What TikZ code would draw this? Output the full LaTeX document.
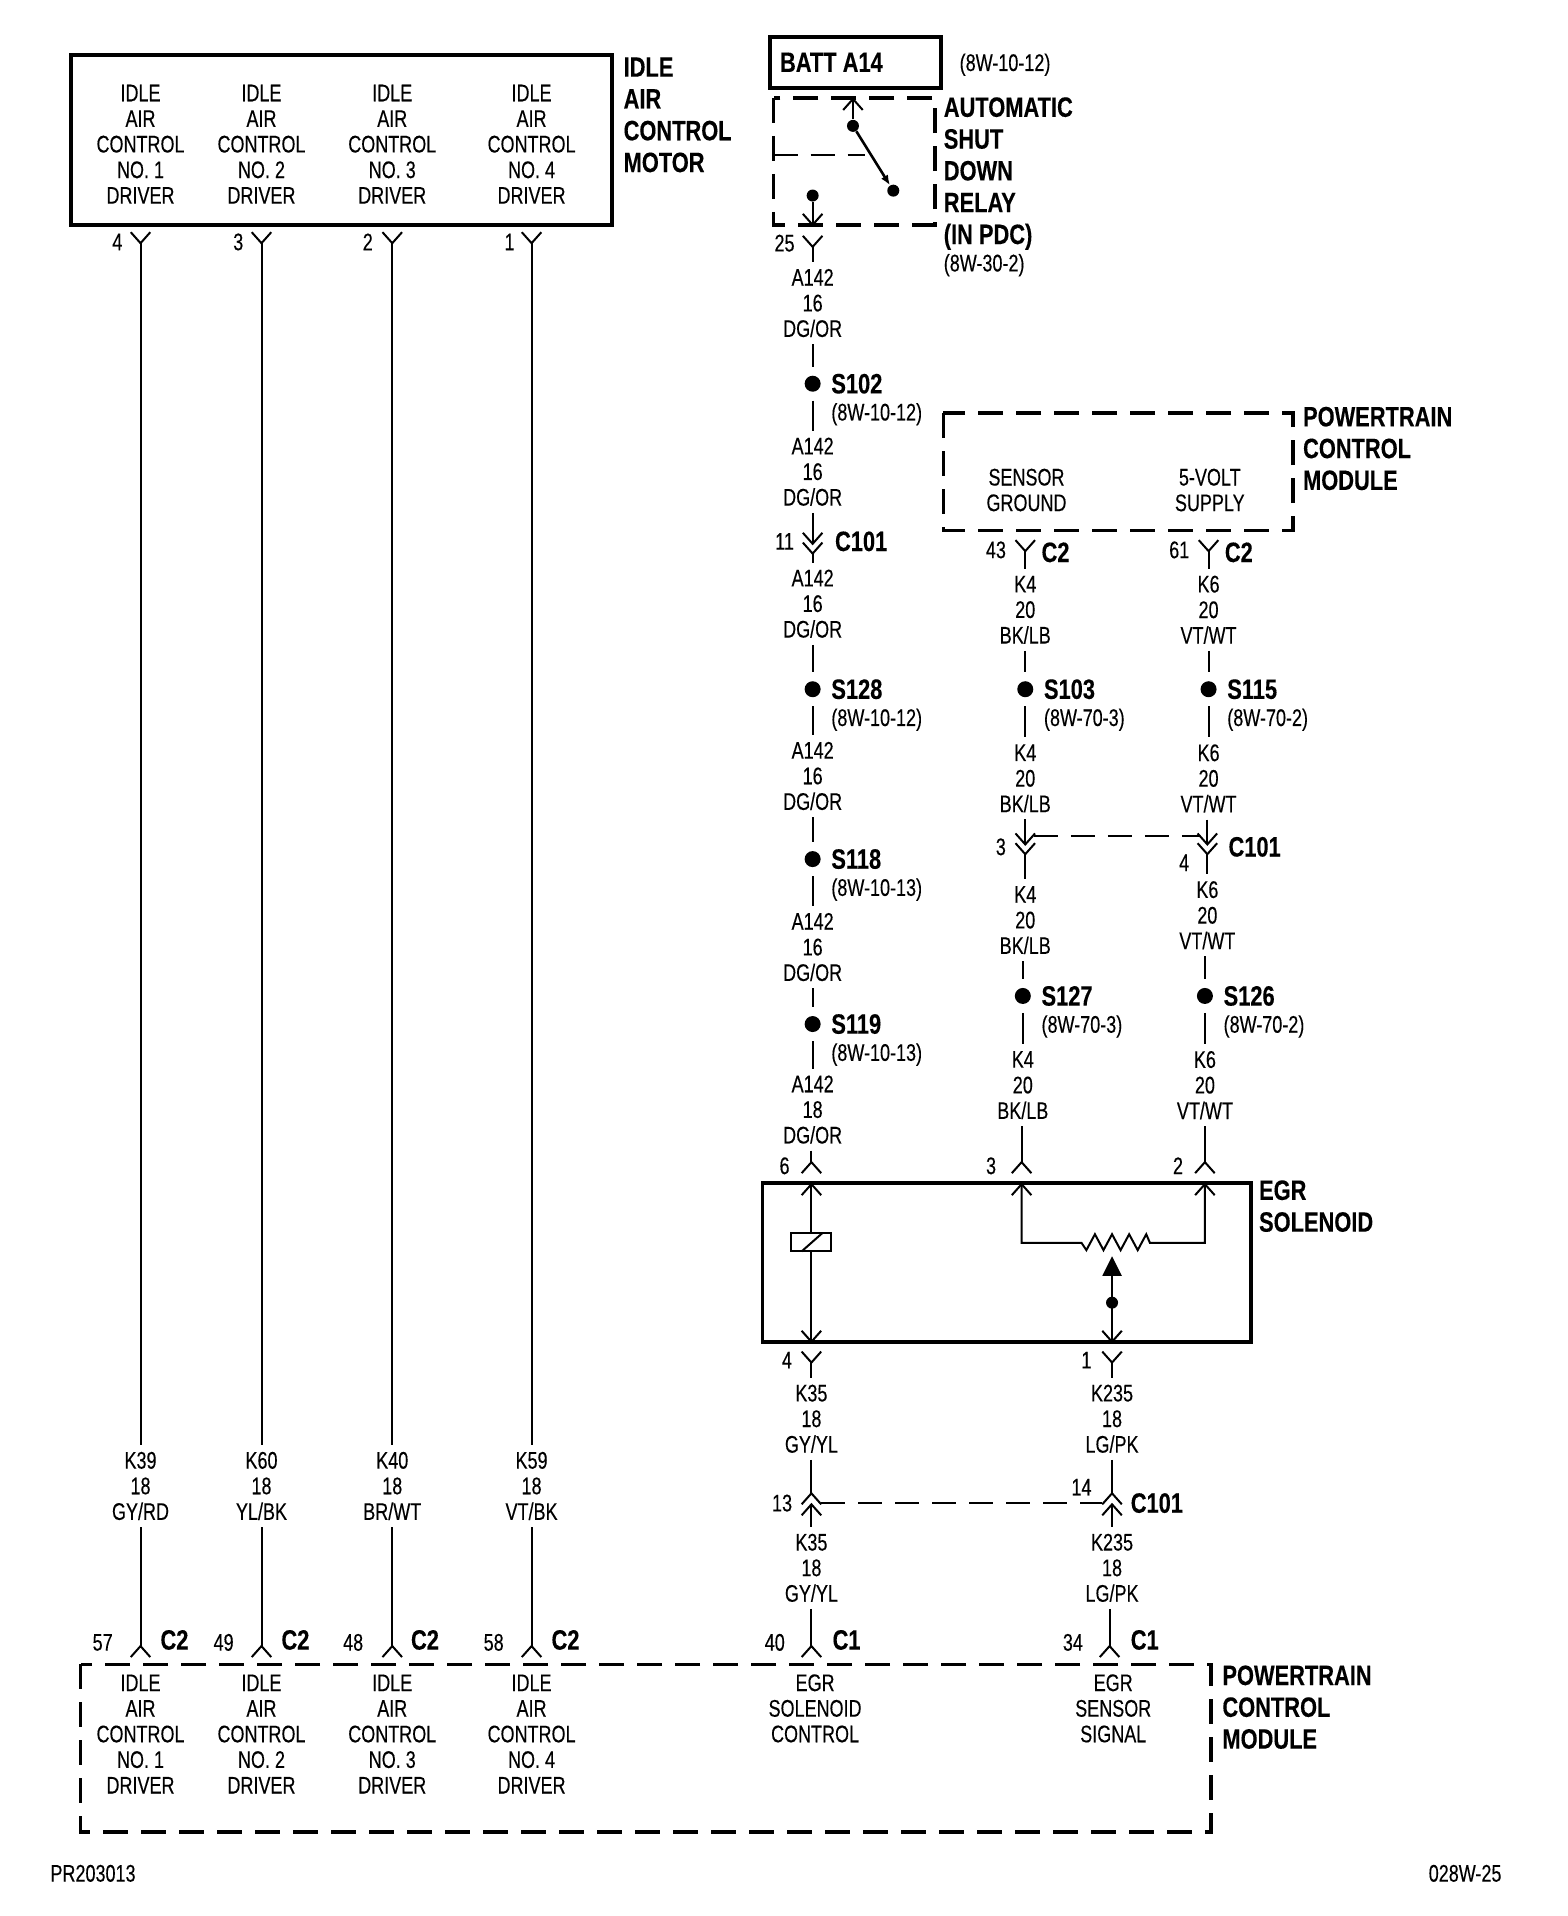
\documentclass[tikz,border=0pt]{standalone}
\usepackage{fontspec}
\setmainfont{Liberation Sans}[FakeStretch=0.75,FakeBold=0.25,BoldFeatures={FakeStretch=0.78}]
\usetikzlibrary{calc,arrows.meta}
\tikzstyle{wire}=[line width=1pt]
\tikzstyle{heavybox}=[line width=1.9pt]
\tikzstyle{dashbox}=[line width=1.8pt,dash pattern=on 12.5pt off 6.5pt,line cap=butt]
\tikzstyle{dashlink}=[line width=1pt,dash pattern=on 12pt off 6.5pt]
\tikzstyle{txt}=[inner sep=0pt,outer sep=3.5pt,align=center,font=\fontsize{12}{12.8}\selectfont]
\tikzstyle{smalltxt}=[inner sep=0pt,font=\fontsize{12}{12.8}\selectfont]
\tikzstyle{reftxt}=[smalltxt,anchor=west]
\tikzstyle{boldtxt}=[inner sep=0pt,anchor=west,align=left,font=\fontsize{14}{15.9}\selectfont\bfseries]
\tikzstyle{splice}=[circle,fill=black,inner sep=0pt,minimum size=8pt,outer sep=4.5pt]
\tikzstyle{contact}=[circle,fill=black,inner sep=0pt,minimum size=6pt]
\newcommand{\pinup}[2]{ % arms above the point
	\coordinate (#1) at (#2);
	\draw[wire] ($(#1)+(-8,-9)$) -- (#1) -- ($(#1)+(8,-9)$);
}
\newcommand{\pindown}[2]{ % arms below the point
	\coordinate (#1) at (#2);
	\draw[wire] ($(#1)+(-8,9)$) -- (#1) -- ($(#1)+(8,9)$);
}
\newcommand{\spliceat}[4]{ % name, point, label, reference
	\node[splice] (#1) at (#2) {};
	\node[boldtxt] (#1lab) at ($(#1)+(15,0)$) {#3};
	\node[reftxt] (#1ref) at ($(#1)+(15,25)$) {#4};
}
\begin{document}
\begin{tikzpicture}[x=0.611pt,y=-0.611pt]
\useasboundingbox (0,0) rectangle (1283.1,1567.9);

% motor and module, left side
\draw[heavybox] (58,45) rectangle (501,184);
\node[boldtxt] (motorname) at (510,94) {IDLE\\AIR\\CONTROL\\MOTOR};
\draw[dashbox] (66,1362) rectangle (991,1499);
\node[boldtxt] (pcmname) at (1000,1397) {POWERTRAIN\\CONTROL\\MODULE};

\foreach \drv/\x/\mpin/\mnum/\cnum/\wirecode/\wirecol in {1/115/96/4/84/K39/{GY/RD},2/214/195/3/183/K60/{YL/BK},3/321/301/2/289/K40/{BR/WT},4/435/417/1/404/K59/{VT/BK}} {
	\node[txt] (mtext\drv) at (\x,118) {IDLE\\AIR\\CONTROL\\NO. \drv\\DRIVER};
	\pinup{mpin\drv}{\x,199}
	\node[smalltxt] (mnum\drv) at (\mpin,198) {\mnum};
	\node[txt] (wire\drv) at (\x,1216) {\wirecode\\18\\\wirecol};
	\pindown{cpin\drv}{\x,1347}
	\draw[wire] (mpin\drv) -- (wire\drv.north);
	\draw[wire] (wire\drv.south) -- (cpin\drv);
	\node[txt] (ctext\drv) at (\x,1419) {IDLE\\AIR\\CONTROL\\NO. \drv\\DRIVER};
}
\node[smalltxt] (cnum1) at (84,1344) {57};
\node[smalltxt] (cnum2) at (183,1344) {49};
\node[smalltxt] (cnum3) at (289,1344) {48};
\node[smalltxt] (cnum4) at (404,1344) {58};
\node[boldtxt] (cc1) at (131,1342) {C2};
\node[boldtxt] (cc2) at (230,1342) {C2};
\node[boldtxt] (cc3) at (336,1342) {C2};
\node[boldtxt] (cc4) at (451,1342) {C2};

% battery feed and relay
\draw[heavybox] (630,30) rectangle (770,72);
\node[boldtxt] (batt) at (638,51) {BATT A14};
\node[reftxt] (battref) at (785,53) {(8W-10-12)};
\draw[dashbox] (633,80) rectangle (765,184);
\draw[wire,dash pattern=on 12pt off 6.5pt] (633,127) -- (708,127);
\node[boldtxt] (relayname) at (772,142) {AUTOMATIC\\SHUT\\DOWN\\RELAY\\(IN PDC)};
\node[reftxt] (relayref) at (772,217) {(8W-30-2)};
\pindown{rtop}{698,81}
\node[contact] (rc1) at (698,103) {};
\node[contact] (rc2) at (731,156) {};
\node[contact] (rc3) at (665,160) {};
\pinup{rbot}{665,184}
\draw[wire] (rtop) -- (rc1);
\draw[line width=1.3pt,-{Latex[length=5pt,width=4pt]}] (rc1) -- (rc2);
\draw[wire] (rc3) -- (rbot);
\pinup{p25}{665,202}
\node[smalltxt] (n25) at (642,199) {25};

% A142 run
\node[txt] (a1) at (665,248) {A142\\16\\DG/OR};
\draw[wire] (p25) -- (a1.north);
\spliceat{s102}{665,314}{S102}{(8W-10-12)}
\draw[wire] (a1.south) -- (s102);
\node[txt] (a2) at (665,386) {A142\\16\\DG/OR};
\draw[wire] (s102) -- (a2.north);
\pinup{c11a}{665,445}
\pinup{c11b}{665,453}
\node[smalltxt] (n11) at (642,443) {11};
\node[boldtxt] (c11lab) at (683,443) {C101};
\draw[wire] (a2.south) -- (c11a);
\node[txt] (a3) at (665,494) {A142\\16\\DG/OR};
\draw[wire] (c11b) -- (a3.north);
\spliceat{s128}{665,564}{S128}{(8W-10-12)}
\draw[wire] (a3.south) -- (s128);
\node[txt] (a4) at (665,635) {A142\\16\\DG/OR};
\draw[wire] (s128) -- (a4.north);
\spliceat{s118}{665,703}{S118}{(8W-10-13)}
\draw[wire] (a4.south) -- (s118);
\node[txt] (a5) at (665,775) {A142\\16\\DG/OR};
\draw[wire] (s118) -- (a5.north);
\spliceat{s119}{665,838}{S119}{(8W-10-13)}
\draw[wire] (a5.south) -- (s119);
\node[txt] (a6) at (665,908) {A142\\18\\DG/OR};
\draw[wire] (s119) -- (a6.north);
\pindown{p6}{664,951}
\node[smalltxt] (n6) at (642,954) {6};
\draw[wire] (p6 |- a6.south) -- (p6);

% sensor module
\draw[dashbox] (772,338) rectangle (1058,434);
\node[boldtxt] (pcmtop) at (1066,367) {POWERTRAIN\\CONTROL\\MODULE};
\node[txt] (sgnd) at (840,401) {SENSOR\\GROUND};
\node[txt] (vsup) at (990,401) {5-VOLT\\SUPPLY};
\pinup{p43}{839,451}
\pinup{p61}{989,451}
\node[smalltxt] (n43) at (815,450) {43};
\node[smalltxt] (n61) at (965,450) {61};
\node[boldtxt] (c43) at (852,452) {C2};
\node[boldtxt] (c61) at (1002,452) {C2};

% K4 run
\node[txt] (k1) at (839,499) {K4\\20\\BK/LB};
\draw[wire] (p43) -- (k1.north);
\spliceat{s103}{839,564}{S103}{(8W-70-3)}
\draw[wire] (k1.south) -- (s103);
\node[txt] (k2) at (839,637) {K4\\20\\BK/LB};
\draw[wire] (s103) -- (k2.north);
\pinup{c3a}{839,691}
\pinup{c3b}{839,699}
\node[smalltxt] (n3a) at (819,693) {3};
\draw[wire] (k2.south) -- (c3a);
\node[txt] (k3) at (839,753) {K4\\20\\BK/LB};
\draw[wire] (c3b) -- (k3.north);
\spliceat{s127}{837,815}{S127}{(8W-70-3)}
\draw[wire] (s127 |- k3.south) -- (s127);
\node[txt] (k4) at (837,888) {K4\\20\\BK/LB};
\draw[wire] (s127) -- (k4.north);
\pindown{p3}{836,951}
\node[smalltxt] (n3) at (811,954) {3};
\draw[wire] (p3 |- k4.south) -- (p3);

% K6 run
\node[txt] (v1) at (989,499) {K6\\20\\VT/WT};
\draw[wire] (p61) -- (v1.north);
\spliceat{s115}{989,564}{S115}{(8W-70-2)}
\draw[wire] (v1.south) -- (s115);
\node[txt] (v2) at (989,637) {K6\\20\\VT/WT};
\draw[wire] (s115) -- (v2.north);
\pinup{c4a}{988,691}
\pinup{c4b}{988,699}
\node[smalltxt] (n4a) at (969,706) {4};
\node[boldtxt] (c4lab) at (1005,693) {C101};
\draw[wire] (c4a |- v2.south) -- (c4a);
\node[txt] (v3) at (988,749) {K6\\20\\VT/WT};
\draw[wire] (c4b) -- (v3.north);
\coordinate (c3arm) at ($(c3a)+(7,-7)$);
\coordinate (c4arm) at ($(c4a)+(-7,-7)$);
\draw[dashlink] (c3arm) -- (c4arm);
\spliceat{s126}{986,815}{S126}{(8W-70-2)}
\draw[wire] (s126 |- v3.south) -- (s126);
\node[txt] (v4) at (986,888) {K6\\20\\VT/WT};
\draw[wire] (s126) -- (v4.north);
\pindown{p2}{986,951}
\node[smalltxt] (n2) at (964,954) {2};
\draw[wire] (v4.south) -- (p2);

% solenoid
\draw[heavybox] (624,968) rectangle (1024,1098);
\node[boldtxt] (egrname) at (1030,987) {EGR\\SOLENOID};
\pindown{e6}{664,969}
\pinup{e4}{664,1098}
\node[draw,line width=1pt,minimum width=20pt,minimum height=9pt,inner sep=0pt] (coil) at (664,1016) {};
\draw[wire] (656,1024) -- (673,1009);
\draw[wire] (e6) -- (coil);
\draw[wire] (coil) -- (e4);
\pindown{e3}{836,969}
\pindown{e2}{986,969}
\draw[wire] (e3) -- (836,1017) -- (885,1017) -- (889,1023) -- (896,1010) -- (903,1023) -- (910,1010) -- (917,1023) -- (924,1010) -- (931,1023) -- (938,1010) -- (941,1017) -- (986,1017) -- (e2);
\pinup{e1}{910,1098}
\node[contact] (wipdot) at (910,1066) {};
\coordinate (wiptip) at (910,1044);
\fill (910,1028) -- (902,1044) -- (918,1044) -- cycle;
\draw[wire] (wiptip) -- (e1);

% below the solenoid
\pinup{p4}{664,1115}
\pinup{p1}{910,1115}
\node[smalltxt] (n4) at (644,1113) {4};
\node[smalltxt] (n1) at (889,1113) {1};
\node[txt] (g1) at (664,1161) {K35\\18\\GY/YL};
\node[txt] (l1) at (910,1161) {K235\\18\\LG/PK};
\draw[wire] (p4) -- (g1.north);
\draw[wire] (p1) -- (l1.north);
\pindown{c13a}{664,1222}
\pindown{c13b}{664,1231}
\pindown{c14a}{910,1222}
\pindown{c14b}{910,1231}
\node[smalltxt] (n13) at (640,1230) {13};
\node[smalltxt] (n14) at (885,1217) {14};
\node[boldtxt] (c14lab) at (925,1230) {C101};
\draw[wire] (g1.south) -- (c13a);
\draw[wire] (l1.south) -- (c14a);
\coordinate (c13arm) at ($(c13a)+(8,8)$);
\coordinate (c14arm) at ($(c14a)+(-8,8)$);
\draw[dashlink] (c13arm) -- (c14arm);
\node[txt] (g2) at (664,1283) {K35\\18\\GY/YL};
\node[txt] (l2) at (910,1283) {K235\\18\\LG/PK};
\draw[wire] (c13b) -- (g2.north);
\draw[wire] (c14b) -- (l2.north);
\pindown{p40}{664,1347}
\pindown{p34}{908,1347}
\draw[wire] (g2.south) -- (p40);
\draw[wire] (p34 |- l2.south) -- (p34);
\node[smalltxt] (n40) at (634,1344) {40};
\node[smalltxt] (n34) at (878,1344) {34};
\node[boldtxt] (c40) at (681,1342) {C1};
\node[boldtxt] (c34) at (925,1342) {C1};
\node[txt] (egrctl) at (667,1398) {EGR\\SOLENOID\\CONTROL};
\node[txt] (egrsig) at (911,1398) {EGR\\SENSOR\\SIGNAL};

% sheet marks
\node[reftxt] (sheetl) at (41,1533) {PR203013};
\node[smalltxt,anchor=east] (sheetr) at (1229,1533) {028W-25};
\end{tikzpicture}
\end{document}
